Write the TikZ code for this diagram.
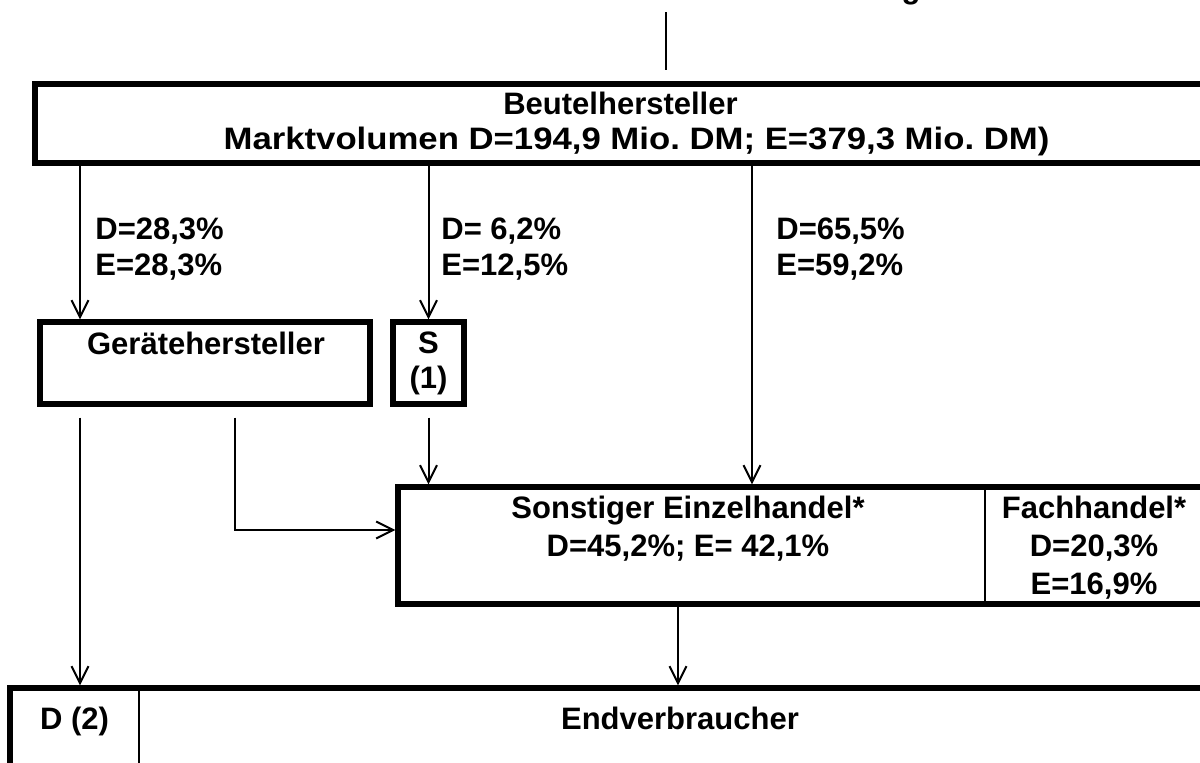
\documentclass[tikz,border=0pt]{standalone}
\usepackage{fontspec}
\usepackage{graphicx}
\setmainfont{Liberation Sans}
\usetikzlibrary{positioning, arrows.meta, calc}
\definecolor{lineMain}{HTML}{000000}
\definecolor{textMain}{HTML}{000000}
\tikzset{
  boxframe/.style={
    draw=lineMain, rectangle, line width=2.6pt, inner sep=0pt,
    font=\bfseries\fontsize{15.5}{17.5}\selectfont, text=textMain, align=center,
  },
  boxtext/.style={
    font=\bfseries\fontsize{15.5}{19}\selectfont, text=textMain,
    align=center, inner sep=0pt, anchor=base,
  },
  sharelabel/.style={
    font=\bfseries\fontsize{15.5}{18}\selectfont, text=textMain,
    align=left, inner sep=0pt, anchor=base west,
  },
  divline/.style={draw=lineMain, line width=1pt},
  flow/.style={
    -{Straight Barb[length=8.5pt, width=8.5pt]}, line width=1pt, color=lineMain,
  },
}

\begin{document}
\frenchspacing
\begin{tikzpicture}[x=0.5pt, y=-0.5pt]
  \useasboundingbox (0,0) rectangle (1200,762);

  % === Title (cut off at the top) and feed line ===
  \node[boxtext] (title) at (911,-2) {g};
  \coordinate (feedTop) at (666,12);
  \coordinate (feedEnd) at (666,70);
  \draw[divline] (feedTop) -- (feedEnd);

  % === Beutelhersteller ===
  \node[boxframe, minimum width=585.5pt, minimum height=39.5pt] (beutel) at (620.5,123.5)
    {Beutelhersteller\\\hspace*{16pt}\scalebox{1.12}[1]{Marktvolumen D=194,9 Mio. DM; E=379,3 Mio. DM)}};

  % === Second row ===
  \node[boxframe, minimum width=165pt, minimum height=41pt] (geraete) at (205,363) {};
  \node[boxtext] (geraeteTxt) at (206,354) {Gerätehersteller};
  \node[boxframe, minimum width=35.5pt, minimum height=41pt] (sone) at (428.5,363) {S\\(1)};

  % === Handel ===
  \node[boxframe, minimum width=404pt, minimum height=58.5pt] (handel) at (802,545.5) {};
  \coordinate (handelDiv) at (985,0);
  \draw[divline] (handelDiv |- handel.north) -- (handelDiv |- handel.south);
  \node[boxtext] (sonstTxt) at (688,556) {Sonstiger Einzelhandel*\\D=45,2\%; E= 42,1\%};
  \node[boxtext] (fachTxt) at (1094,594) {Fachhandel*\\D=20,3\%\\E=16,9\%};

  % === Endverbraucher ===
  \node[boxframe, minimum width=598pt, minimum height=56pt] (endv) at (608,744) {};
  \coordinate (endvDiv) at (139,0);
  \draw[divline] (endvDiv |- endv.north) -- (endvDiv |- endv.south);
  \node[boxtext] (dzweiTxt) at (74.5,729) {D (2)};
  \node[boxtext] (endvTxt) at (680,729) {Endverbraucher};

  % === Share labels ===
  \node[sharelabel] (shareGer) at (95,275) {D=28,3\%\\E=28,3\%};
  \node[sharelabel] (shareS) at (441,275) {D= 6,2\%\\E=12,5\%};
  \node[sharelabel] (shareHan) at (776,275) {D=65,5\%\\E=59,2\%};

  % === Arrows ===
  \coordinate (colA) at (80,0);
  \coordinate (colB) at (752,0);
  \coordinate (colC) at (678,0);
  \coordinate (elbow) at (235,530);
  \draw[flow] (colA |- beutel.south) -- (colA |- geraete.north);
  \draw[flow] (sone.north |- beutel.south) -- (sone.north);
  \draw[flow] (colB |- beutel.south) -- (colB |- handel.north);
  \draw[flow, shorten <=5.5pt] (colA |- geraete.south) -- (colA |- endv.north);
  \draw[flow, shorten <=5.5pt] (elbow |- geraete.south) -- (elbow) -- (elbow -| handel.west);
  \draw[flow, shorten <=5.5pt] (sone.south) -- (sone.south |- handel.north);
  \draw[flow] (colC |- handel.south) -- (colC |- endv.north);

\end{tikzpicture}
\end{document}
